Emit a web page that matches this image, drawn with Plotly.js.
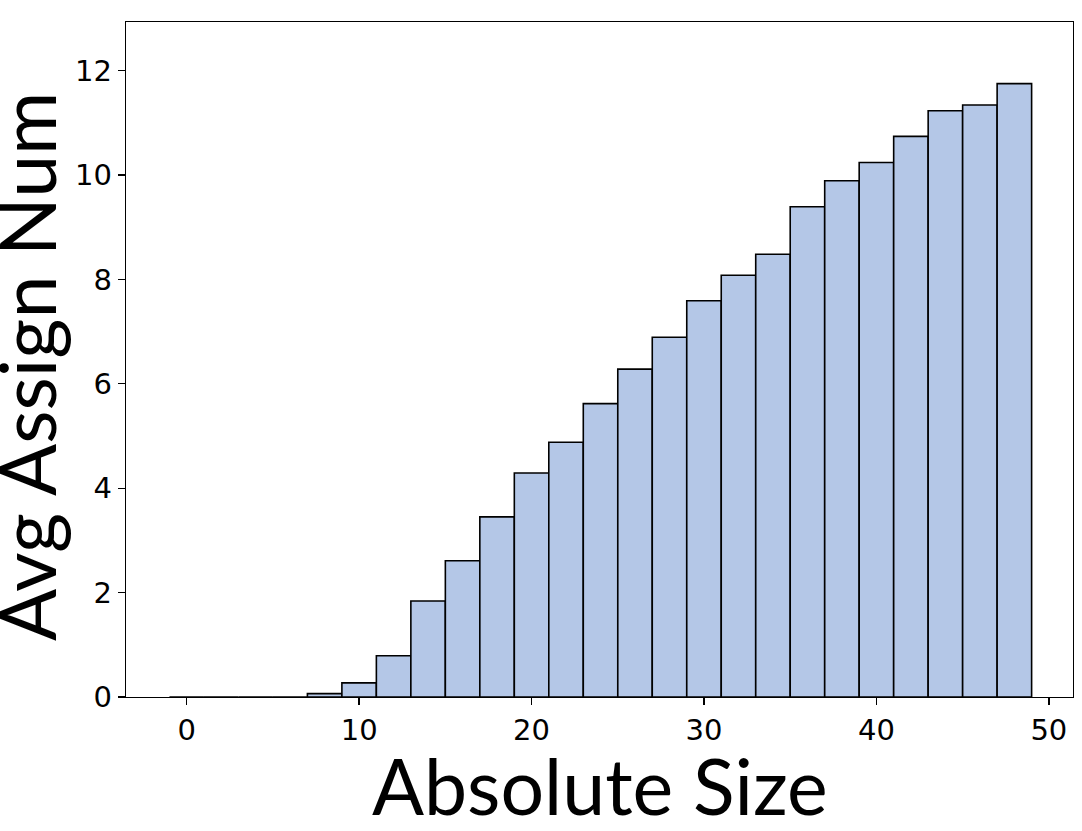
<!DOCTYPE html>
<html>
<head>
<meta charset="utf-8">
<script src="https://cdn.plot.ly/plotly-3.0.1.min.js"></script>
<style>html,body{margin:0;padding:0;background:#fff;}#chart{width:1082px;height:831px;}</style>
</head>
<body>
<div id="chart"></div>
<script>
// Bin centers (Absolute Size), each bin 2 units wide
const sizeCenters = [0, 2, 4, 6, 8, 10, 12, 14, 16, 18, 20, 22, 24, 26, 28, 30, 32, 34, 36, 38, 40, 42, 44, 46, 48];
// Average assign number per bin
const avgAssign = [0, 0, 0, 0, 0.065, 0.27, 0.79, 1.84, 2.61, 3.45, 4.29, 4.88, 5.62, 6.28, 6.89, 7.59, 8.08, 8.48, 9.39, 9.89, 10.24, 10.74, 11.23, 11.34, 11.75];
const xTicks = [0, 10, 20, 30, 40, 50];
const yTicks = [0, 2, 4, 6, 8, 10, 12];
const xTitle = "Absolute Size";
const yTitle = "Avg Assign Num";

const trace = {
  type: "bar",
  x: sizeCenters,
  y: avgAssign,
  width: sizeCenters.map(() => 2),
  marker: {color: "#b4c7e7", line: {color: "#000000", width: 1.6}},
  hoverinfo: "x+y"
};

const tickFont = {family: "DejaVu Sans", size: 29, color: "#000"};
const titleFont = {family: "Lato", size: 77, color: "#000"};

const layout = {
  width: 1082, height: 831,
  margin: {l: 126, r: 9, t: 22, b: 134, pad: 0},
  paper_bgcolor: "#fff", plot_bgcolor: "#fff",
  showlegend: false,
  bargap: 0,
  xaxis: {
    range: [-3.52, 51.4], tickvals: xTicks, ticktext: xTicks.map(String),
    ticks: "outside", ticklen: 7, tickwidth: 1.3, tickcolor: "#000",
    showline: true, mirror: true, linecolor: "#000", linewidth: 1.3,
    showgrid: false, zeroline: false, tickfont: tickFont,
    automargin: false
  },
  yaxis: {
    range: [0, 12.93], tickvals: yTicks, ticktext: yTicks.map(String),
    ticks: "outside", ticklen: 7, tickwidth: 1.3, tickcolor: "#000",
    showline: true, mirror: true, linecolor: "#000", linewidth: 1.3,
    showgrid: false, zeroline: false, tickfont: tickFont,
    automargin: false
  },
  annotations: [
    {text: xTitle, xref: "paper", yref: "paper", x: 0.5, y: -0.1304,
     xanchor: "center", yanchor: "middle", showarrow: false, font: titleFont},
    {text: yTitle, xref: "paper", yref: "paper", x: -0.1056, y: 0.4904, textangle: -90,
     xanchor: "center", yanchor: "middle", showarrow: false, font: titleFont}
  ]
};

Plotly.newPlot("chart", [trace], layout, {displayModeBar: false, staticPlot: true});
</script>
</body>
</html>
